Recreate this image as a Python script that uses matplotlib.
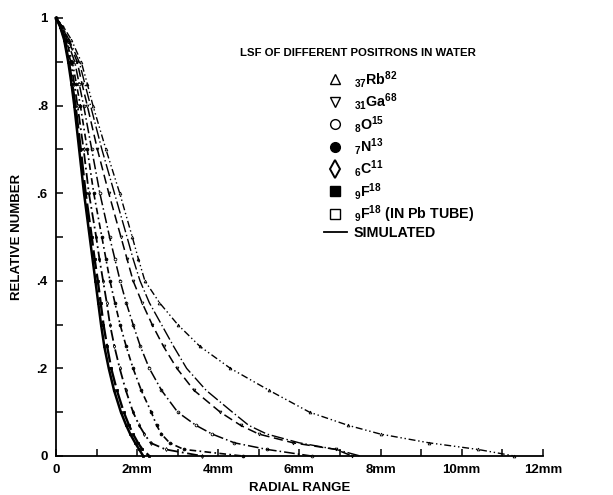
# -*- coding: UTF-8 -*-
import matplotlib
matplotlib.use("Agg")
import matplotlib.pyplot as plt
from matplotlib.lines import Line2D
from matplotlib.ticker import MultipleLocator

plt.rcParams['font.family'] = ['Liberation Sans', 'DejaVu Sans']
plt.rcParams['font.weight'] = 'bold'
plt.rcParams['mathtext.fontset'] = 'custom'
plt.rcParams['mathtext.bf'] = 'Liberation Sans:bold'
plt.rcParams['mathtext.rm'] = 'Liberation Sans:bold'
plt.rcParams['mathtext.default'] = 'bf'

# relative number levels at which each curve was read (shared by all curves)
rel_number = [1.0, 0.98, 0.95, 0.9, 0.85, 0.8, 0.7, 0.6, 0.5, 0.45, 0.4, 0.35,
              0.3, 0.25, 0.2, 0.15, 0.1, 0.07, 0.05, 0.03, 0.015, 0.0]

# radial range (mm) of each curve at those levels
f18_pb = [0, .10, .20, .30, .38, .45, .57, .69, .83, .90, .97, 1.04,
          1.11, 1.19, 1.30, 1.43, 1.60, 1.73, 1.83, 1.95, 2.05, 2.15]
f18 = [0, .11, .21, .32, .40, .48, .61, .73, .88, .95, 1.03, 1.10,
       1.17, 1.26, 1.36, 1.50, 1.67, 1.80, 1.90, 2.02, 2.13, 2.30]
c11 = [0, .12, .23, .36, .45, .53, .68, .81, .99, 1.07, 1.16, 1.25,
       1.33, 1.44, 1.57, 1.72, 1.90, 2.05, 2.18, 2.33, 2.70, 3.60]
n13 = [0, .13, .25, .40, .50, .60, .77, .93, 1.13, 1.23, 1.33, 1.45,
       1.58, 1.73, 1.90, 2.10, 2.35, 2.48, 2.60, 2.80, 3.15, 4.60]
o15 = [0, .14, .27, .46, .57, .68, .88, 1.08, 1.32, 1.45, 1.58, 1.73,
       1.90, 2.08, 2.30, 2.60, 3.00, 3.45, 3.85, 4.40, 5.20, 6.30]
ga68 = [0, .15, .30, .52, .64, .77, 1.02, 1.30, 1.60, 1.75, 1.90, 2.12,
        2.37, 2.65, 2.98, 3.40, 4.05, 4.55, 5.00, 5.85, 6.90, 7.30]
simulated = [0, .16, .32, .57, .71, .85, 1.13, 1.44, 1.75, 1.90, 2.07, 2.30,
             2.60, 2.90, 3.22, 3.70, 4.35, 4.75, 5.20, 6.00, 6.90, 7.50]
rb82 = [0, .18, .38, .62, .77, .91, 1.23, 1.57, 1.88, 2.03, 2.19, 2.55,
        3.00, 3.55, 4.30, 5.25, 6.25, 7.20, 8.00, 9.20, 10.40, 11.30]

x_ticks = [0, 2, 4, 6, 8, 10, 12]
x_labels = ['0', '2mm', '4mm', '6mm', '8mm', '10mm', '12mm']
y_ticks = [0, 0.2, 0.4, 0.6, 0.8, 1.0]
y_labels = ['0', '.2', '.4', '.6', '.8', '1']

curves = [
    (f18_pb, '-', 1.8, 's', 'none'),
    (f18, (0, (8, 2)), 1.7, 's', 'k'),
    (c11, (0, (6, 2, 1, 2)), 1.3, 'd', 'none'),
    (n13, (0, (4, 2, 1, 2)), 1.2, 'o', 'k'),
    (o15, (0, (7, 2, 1, 2)), 1.1, 'o', 'none'),
    (ga68, (0, (6, 3)), 1.1, 'v', 'none'),
    (simulated, (0, (9, 2, 1, 2)), 1.0, None, 'none'),
    (rb82, (0, (5, 2, 1, 2, 1, 2)), 1.0, '^', 'none'),
]

fig = plt.figure(figsize=(6.13, 4.95), dpi=100)
ax = fig.add_axes([0.0914, 0.0788, 0.794, 0.885])

for xs, ls, lw, mk, mfc in curves:
    ax.plot(xs, rel_number, color='k', linestyle=ls, linewidth=lw,
            marker=mk, markersize=2.0, markerfacecolor=mfc,
            markeredgecolor='k', markeredgewidth=0.6, clip_on=False)

ax.set_xlim(0, 12)
ax.set_ylim(0, 1)
ax.spines['top'].set_visible(False)
ax.spines['right'].set_visible(False)
ax.spines['left'].set_linewidth(1.3)
ax.spines['bottom'].set_linewidth(1.3)
ax.set_xticks(x_ticks)
ax.set_xticklabels(x_labels)
ax.set_yticks(y_ticks)
ax.set_yticklabels(y_labels)
ax.xaxis.set_minor_locator(MultipleLocator(1))
ax.yaxis.set_minor_locator(MultipleLocator(0.1))
ax.tick_params(which='both', direction='in', width=1.1, length=5,
               labelsize=9.5, pad=6)
ax.set_xlabel("RADIAL RANGE", fontsize=9.5, fontweight='bold', labelpad=4)
ax.set_ylabel("RELATIVE NUMBER", fontsize=9.5, fontweight='bold', labelpad=10)

# legend
fig.text(240 / 613, 1 - 53 / 495, "LSF OF DIFFERENT POSITRONS IN WATER",
         fontsize=8.2, fontweight='bold', va='center', ha='left')
handles = [
    Line2D([], [], ls='none', marker='^', mfc='none', mec='k', ms=7, mew=1),
    Line2D([], [], ls='none', marker='v', mfc='none', mec='k', ms=7, mew=1),
    Line2D([], [], ls='none', marker='o', mfc='none', mec='k', ms=7, mew=1),
    Line2D([], [], ls='none', marker='o', mfc='k', mec='k', ms=7, mew=1),
    Line2D([], [], ls='none', marker='d', mfc='none', mec='k', ms=9, mew=1.4),
    Line2D([], [], ls='none', marker='s', mfc='k', mec='k', ms=7, mew=1),
    Line2D([], [], ls='none', marker='s', mfc='none', mec='k', ms=7, mew=1),
    Line2D([], [], color='k', lw=1.3),
]
labels = [r'$_{37}$Rb$^{82}$', r'$_{31}$Ga$^{68}$', r'$_{8}$O$^{15}$',
          r'$_{7}$N$^{13}$', r'$_{6}$C$^{11}$', r'$_{9}$F$^{18}$',
          r'$_{9}$F$^{18}$ (IN Pb TUBE)', 'SIMULATED']
leg = fig.legend(handles, labels, loc='upper left',
                 bbox_to_anchor=(318 / 613, 1 - 63 / 495), frameon=False,
                 fontsize=10.3, handlelength=1.6, handletextpad=0.5,
                 labelspacing=0.1, borderaxespad=0)
for t in leg.get_texts():
    t.set_fontweight('bold')

fig.savefig("out.png", dpi=100)
